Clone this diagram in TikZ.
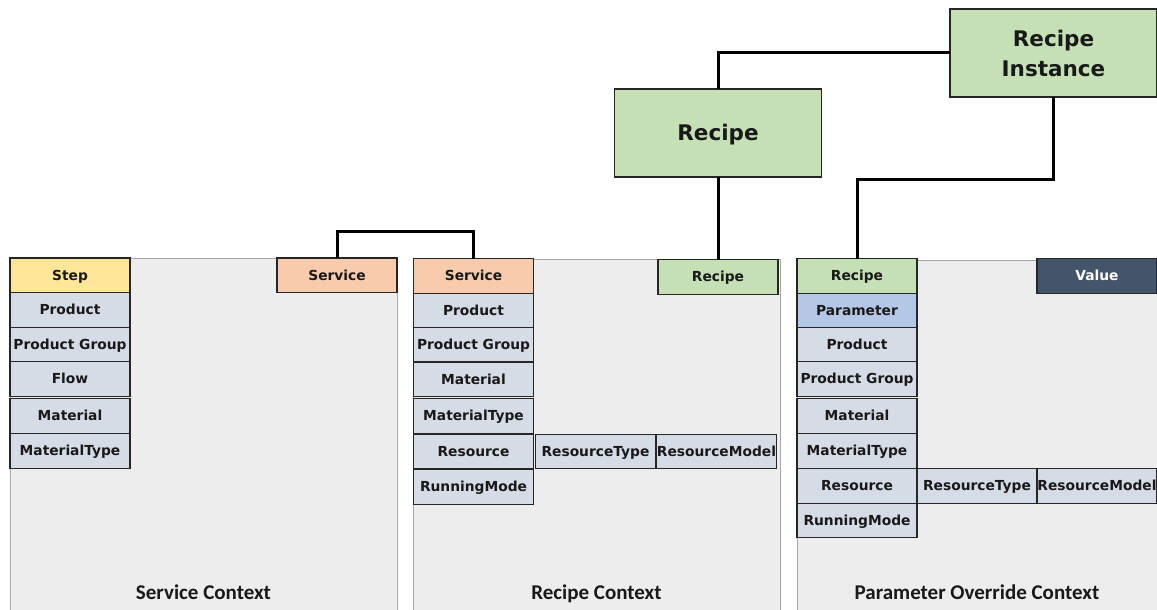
\documentclass[tikz,border=0pt]{standalone}
\usepackage{fontspec}
\setmainfont{DejaVu Sans}
\newfontfamily\ctxfont{Carlito}
\usetikzlibrary{positioning}

\definecolor{panelgray}{HTML}{EDEDED}
\definecolor{panelline}{HTML}{A6A6A6}
\definecolor{cellblue}{HTML}{D6DCE5}
\definecolor{parblue}{HTML}{B4C7E7}
\definecolor{recgreen}{HTML}{C5E0B4}
\definecolor{svcorange}{HTML}{F8CBAD}
\definecolor{stepyellow}{HTML}{FFE699}
\definecolor{valslate}{HTML}{44546A}
\definecolor{cellline}{HTML}{262626}

\tikzset{
	cell/.style={draw=cellline, line width=1.3pt, fill=cellblue, text=black!90,
		minimum width=120pt, minimum height=34.5pt, inner sep=0pt, outer sep=0pt,
		text height=9.9pt, text depth=0pt,
		font=\fontsize{13.8}{16}\selectfont\bfseries},
	bigbox/.style={draw=cellline, line width=1.3pt, fill=recgreen, text=black!90,
		minimum width=207pt, minimum height=88pt, inner sep=0pt, outer sep=0pt,
		align=center, font=\fontsize{21.5}{30}\selectfont\bfseries},
	link/.style={line width=3pt, black},
	panel/.style={fill=panelgray, draw=panelline, line width=0.8pt},
	ctx/.style={anchor=base, text=black!90, font=\fontsize{21}{24}\selectfont\ctxfont\bfseries}
}

\begin{document}
\begin{tikzpicture}[x=1pt, y=-1pt]
	\useasboundingbox (0,0) rectangle (1157,610);
	
	% the three contexts
	\draw[panel] (10,258) rectangle (397,620);
	\draw[panel] (413,259) rectangle (780,620);
	\draw[panel] (797,260) rectangle (1170,620);
	\node[ctx] (svcctx) at (203.5,599) {Service Context};
	\node[ctx] (recctx) at (596.5,599) {Recipe Context};
	\node[ctx] (parctx) at (977,599) {Parameter Override Context};
	
	% service context
	\node[cell, fill=stepyellow] (lstep) at (70,275.3) {Step};
	\node[cell] (lprod) at (70,310) {Product};
	\node[cell] (lpgrp) at (70,344.5) {Product Group};
	\node[cell] (lflow) at (70,379) {Flow};
	\node[cell] (lmat) at (70,416) {Material};
	\node[cell] (lmtype) at (70,451) {MaterialType};
	\node[cell, fill=svcorange] (lsvc) at (337,275.3) {Service};
	
	% recipe context
	\node[cell, fill=svcorange] (msvc) at (473.5,276) {Service};
	\node[cell] (mprod) at (473.5,310.5) {Product};
	\node[cell] (mpgrp) at (473.5,344.5) {Product Group};
	\node[cell] (mmat) at (473.5,379.5) {Material};
	\node[cell] (mmtype) at (473.5,416) {MaterialType};
	\node[cell] (mres) at (473.5,451.5) {Resource};
	\node[cell] (mrmode) at (473.5,487) {RunningMode};
	\node[cell] (mrtype) at (595.5,451.5) {ResourceType};
	\node[cell] (mrmodel) at (716.5,451.5) {ResourceModel};
	\node[cell, fill=recgreen] (mrec) at (718,277) {Recipe};
	
	% parameter override context
	\node[cell, fill=recgreen] (rrec) at (857,276) {Recipe};
	\node[cell, fill=parblue] (rpar) at (857,310.5) {Parameter};
	\node[cell] (rprod) at (857,344.5) {Product};
	\node[cell] (rpgrp) at (857,379) {Product Group};
	\node[cell] (rmat) at (857,416) {Material};
	\node[cell] (rmtype) at (857,451) {MaterialType};
	\node[cell] (rres) at (857,486) {Resource};
	\node[cell] (rrmode) at (857,520.5) {RunningMode};
	\node[cell] (rrtype) at (977,486) {ResourceType};
	\node[cell] (rrmodel) at (1097,486) {ResourceModel};
	\node[cell, fill=valslate, text=white] (rval) at (1097,276) {Value};
	
	% recipe and its instance
	\node[bigbox, text height=15.7pt, text depth=0pt] (recipe) at (718,133) {Recipe};
	\node[bigbox] (instance) at (1053.5,53) {\raisebox{-2pt}{\parbox{200pt}{\centering Recipe\\Instance}}};
	
	\coordinate (svcbend) at (400,231);
	\coordinate (instbend) at (950,179);
	\draw[link] (lsvc.north) |- (svcbend) -| (msvc.north);
	\draw[link] (recipe.north) |- (instance.west);
	\draw[link] (recipe.south) -- (mrec.north);
	\draw[link] (instance.south) |- (instbend) -| (rrec.north);
\end{tikzpicture}
\end{document}
